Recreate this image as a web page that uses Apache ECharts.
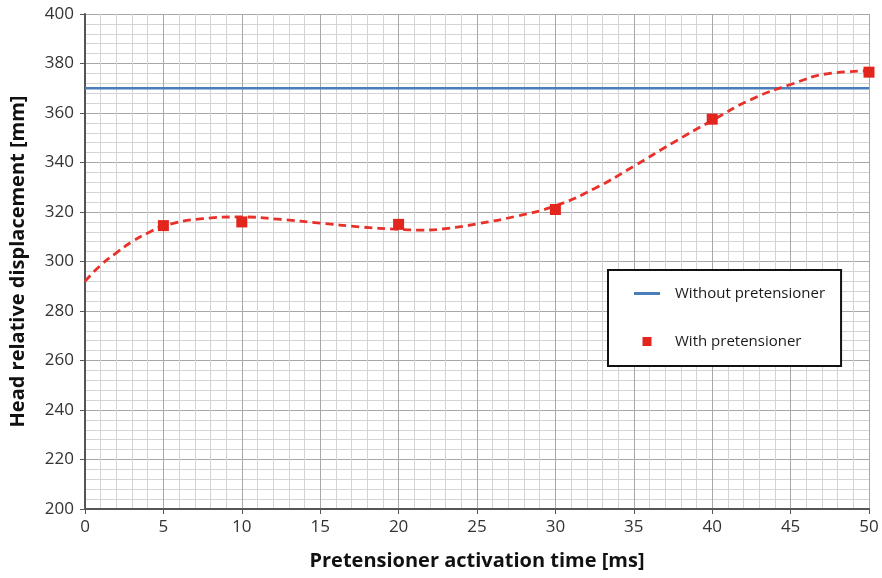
<!DOCTYPE html>
<html>
<head>
<meta charset="utf-8">
<script src="https://cdn.jsdelivr.net/npm/echarts@6/dist/echarts.min.js"></script>
<style>
  html, body { margin: 0; padding: 0; background: #fff; }
  #chart { width: 882px; height: 578px; }
</style>
</head>
<body>
<div id="chart"></div>
<script>
"use strict";

// Measured points (with pretensioner)
const activationTimes = [5, 10, 20, 30, 40, 50];
const withPretensioner = [314.5, 316, 315, 321, 357.5, 376.5];

// Reference level (without pretensioner)
const withoutLevel = 370;

// Dashed trend curve
const trendX = [0, 1, 2, 3, 4, 5, 7.5, 10, 12.5, 15, 17.5, 20, 21.5, 23, 25, 27.5, 30, 32.5, 35, 37.5, 40, 42.5, 45, 47.5, 50];
const trendY = [292, 298.5, 303.5, 308, 311.5, 314.3, 317.3, 318, 317, 315.5, 314, 313, 312.7, 313.3, 315.2, 318.3, 322.5, 329.5, 338.5, 348, 357, 365.5, 371.5, 376, 377];

const FONT = "'Open Sans', 'Noto Sans', sans-serif";

const chart = echarts.init(document.getElementById("chart"));

const option = {
  animation: false,
  grid: { left: 84, right: 13, top: 14, bottom: 69 },
  legend: {
    orient: "vertical",
    left: 608,
    top: 270,
    padding: [16, 16, 17, 26],
    itemGap: 33,
    itemWidth: 26,
    itemHeight: 9,
    backgroundColor: "#fff",
    borderColor: "#111",
    borderWidth: 2,
    textStyle: { fontFamily: FONT, fontSize: 15, color: "#1a1a1a", padding: [0, 0, 0, 10] },
    data: [
      { name: "Without pretensioner", icon: "path://M0,0h26v3h-26z" },
      { name: "With pretensioner", icon: "path://M0,0h10v10h-10z" },
    ],
  },
  xAxis: {
    type: "value",
    min: 0,
    max: 50,
    interval: 5,
    name: "Pretensioner activation time [ms]",
    nameLocation: "middle",
    nameGap: 42,
    nameTextStyle: { fontFamily: FONT, fontSize: 20, fontWeight: "bold", color: "#111" },
    axisLine: { lineStyle: { color: "#555", width: 2 } },
    axisTick: { show: true, length: 5, lineStyle: { color: "#555" } },
    axisLabel: { fontFamily: FONT, fontSize: 17, color: "#333", margin: 10 },
    splitLine: { lineStyle: { color: "#a8a8a8", width: 1 } },
    minorTick: { show: true, splitNumber: 5, length: 0 },
    minorSplitLine: { show: true, lineStyle: { color: "#d4d4d4", width: 1 } },
  },
  yAxis: {
    type: "value",
    min: 200,
    max: 400,
    interval: 20,
    name: "Head relative displacement [mm]",
    nameLocation: "middle",
    nameGap: 57,
    nameTextStyle: { fontFamily: FONT, fontSize: 20, fontWeight: "bold", color: "#111" },
    axisLine: { show: true, lineStyle: { color: "#555", width: 2 } },
    axisTick: { show: true, length: 5, lineStyle: { color: "#555" } },
    axisLabel: { fontFamily: FONT, fontSize: 17, color: "#333", margin: 11 },
    splitLine: { lineStyle: { color: "#a8a8a8", width: 1 } },
    minorTick: { show: true, splitNumber: 5, length: 0 },
    minorSplitLine: { show: true, lineStyle: { color: "#d4d4d4", width: 1 } },
  },
  series: [
    {
      name: "Without pretensioner",
      type: "line",
      symbol: "none",
      data: [[0, withoutLevel], [50, withoutLevel]],
      lineStyle: { color: "#4a7ebb", width: 2.5 },
      itemStyle: { color: "#4a7ebb" },
      z: 3,
    },
    {
      name: "trend",
      type: "line",
      smooth: 0.5,
      symbol: "none",
      data: trendX.map((x, i) => [x, trendY[i]]),
      lineStyle: { color: "#e8312a", width: 2.8, type: [8, 5] },
      z: 4,
    },
    {
      name: "With pretensioner",
      type: "scatter",
      symbol: "rect",
      symbolSize: 11,
      data: activationTimes.map((x, i) => [x, withPretensioner[i]]),
      itemStyle: { color: "#e3261d", opacity: 1 },
      z: 5,
    },
  ],
};

chart.setOption(option);
</script>
</body>
</html>
